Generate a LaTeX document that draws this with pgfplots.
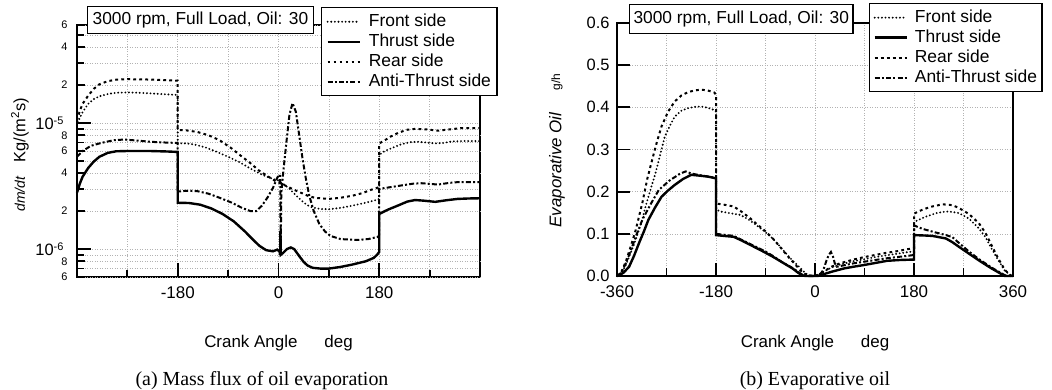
\documentclass[border=0pt]{standalone}
\usepackage{fontspec}
\setmainfont{Liberation Sans}
\newfontfamily\seriffont{Liberation Serif}
\usepackage{pgfplots}
\pgfplotsset{compat=1.18}
\newcommand\fs[1]{\fontsize{#1}{#1}\selectfont}

\pgfplotsset{
  myax/.style={
    scale only axis,
    clip=false,
    axis line style={line width=2bp},
    tick style={line width=1.8bp, black},
    tick align=inside,
    tick pos=left,
    major tick length=14bp,
    minor tick length=8bp,
    grid=both,
    major grid style={line width=0.6bp, gray!60, dash pattern=on 1bp off 1.5bp},
    minor grid style={line width=0.6bp, gray!60, dash pattern=on 1bp off 1.5bp},
    xticklabel style={font=\fs{17}, yshift=-6bp},
    xmin=-360, xmax=360,
    minor xtick={-270,-90,90,270},
    legend cell align=left,
    legend image code/.code={\draw[#1] (0bp,0bp) -- (32bp,0bp);},
  },
  front/.style={black, line width=2.1bp, line cap=round, dash pattern=on 0bp off 3.6bp},
  rear/.style={black, line width=2bp, dash pattern=on 2.8bp off 3.2bp},
  thrust/.style={black, line width=2.4bp, solid},
  anti/.style={black, line width=2bp, dash pattern=on 5bp off 2.2bp on 2bp off 2.2bp},
}

\begin{document}
\begin{tikzpicture}
\useasboundingbox (0bp,0bp) rectangle (1052bp,390bp);

% ---------------- (a) ----------------
\begin{axis}[myax,
  at={(77bp,113bp)}, anchor=south west, width=403bp, height=252bp,
  ymode=log, ymin=6e-7, ymax=6e-5,
  xtick={-180,0,180}, xticklabels={-180,0,180},
  ytick={1e-6,1e-5},
  yticklabels={10\raisebox{5bp}{\fs{11}-6},10\raisebox{5bp}{\fs{11}-5}},
  yticklabel style={font=\fs{16.5}, xshift=-10bp},
  extra y ticks={6e-7,8e-7,2e-6,4e-6,6e-6,8e-6,2e-5,4e-5,6e-5},
  extra y tick labels={6,8,2,4,6,8,2,4,6},
  extra y tick style={grid=major, major tick length=8bp,
     yticklabel style={font=\fs{11}, xshift=4bp}},
  minor ytick={7e-7,9e-7,3e-6,5e-6,7e-6,9e-6,3e-5,5e-5},
  minor tick length=7bp,
  xlabel={Crank Angle\hspace{27bp}deg},
  xlabel style={font=\fs{17}, at={(axis description cs:0.5,-0.262)}, anchor=center},
  legend style={at={(axis description cs:0.605,1.071)}, anchor=north west,
     draw=black, line width=1.3bp, fill=white, font=\fs{17.5},
     inner xsep=5bp, inner ysep=4bp, row sep=0bp,
     nodes={inner sep=1bp, text height=13.5bp, text depth=4.5bp},
     /tikz/every odd column/.append style={column sep=7bp}},
]
\addplot[front] coordinates {(-360,9.5e-6) (-355,1.1e-5) (-350,1.22e-5) (-340,1.42e-5) (-330,1.55e-5) (-320,1.63e-5) (-305,1.7e-5) (-290,1.74e-5) (-270,1.75e-5) (-250,1.74e-5) (-230,1.72e-5) (-200,1.69e-5) (-180,1.67e-5) (-180,6.9e-6) (-165,6.9e-6) (-150,6.75e-6) (-130,6.4e-6) (-110,5.9e-6) (-90,5.4e-6) (-70,4.9e-6) (-50,4.35e-6) (-30,3.9e-6) (-10,3.6e-6) (0,3.5e-6) (10,3.25e-6) (20,3.0e-6) (30,2.7e-6) (40,2.45e-6) (50,2.25e-6) (60,2.14e-6) (75,2.08e-6) (90,2.07e-6) (110,2.12e-6) (130,2.2e-6) (150,2.3e-6) (170,2.42e-6) (180,2.5e-6) (180,5.6e-6) (190,6.0e-6) (205,6.4e-6) (220,6.8e-6) (235,7.05e-6) (250,7.1e-6) (265,7.0e-6) (280,6.9e-6) (295,6.95e-6) (310,7.15e-6) (330,7.2e-6) (360,7.2e-6)};
\addlegendentry{Front side}
\addplot[thrust] coordinates {(-360,2.8e-6) (-355,3.3e-6) (-350,3.75e-6) (-340,4.4e-6) (-330,4.95e-6) (-320,5.4e-6) (-305,5.8e-6) (-290,5.97e-6) (-270,6.0e-6) (-230,6.0e-6) (-200,5.95e-6) (-180,5.9e-6) (-180,2.33e-6) (-160,2.32e-6) (-140,2.25e-6) (-120,2.1e-6) (-100,1.9e-6) (-80,1.66e-6) (-60,1.38e-6) (-45,1.18e-6) (-34,1.06e-6) (-22,0.98e-6) (-10,0.96e-6) (-2,0.99e-6) (2,0.95e-6) (3,0.9e-6) (3.5,1.4e-6) (4,0.9e-6) (8,0.93e-6) (15,1.0e-6) (22,1.03e-6) (28,1.0e-6) (37,0.88e-6) (45,0.79e-6) (52,0.74e-6) (61,0.71e-6) (75,0.70e-6) (90,0.70e-6) (110,0.72e-6) (130,0.75e-6) (156,0.8e-6) (170,0.85e-6) (176,0.9e-6) (180,0.95e-6) (180,1.9e-6) (195,2.05e-6) (214,2.22e-6) (230,2.38e-6) (244,2.45e-6) (260,2.42e-6) (280,2.37e-6) (300,2.44e-6) (320,2.5e-6) (340,2.52e-6) (360,2.53e-6)};
\addlegendentry{Thrust side}
\addplot[rear] coordinates {(-360,1.05e-5) (-355,1.25e-5) (-350,1.42e-5) (-340,1.65e-5) (-330,1.87e-5) (-320,2.03e-5) (-305,2.15e-5) (-290,2.21e-5) (-270,2.23e-5) (-240,2.22e-5) (-210,2.2e-5) (-180,2.17e-5) (-180,8.8e-6) (-165,8.75e-6) (-145,8.5e-6) (-125,8.0e-6) (-105,7.3e-6) (-85,6.35e-6) (-65,5.4e-6) (-50,4.8e-6) (-35,4.2e-6) (-20,3.8e-6) (-5,3.45e-6) (5,3.3e-6) (15,3.15e-6) (28,2.95e-6) (40,2.8e-6) (52,2.65e-6) (65,2.55e-6) (90,2.5e-6) (110,2.55e-6) (132,2.65e-6) (150,2.78e-6) (165,2.95e-6) (180,3.1e-6) (180,6.9e-6) (190,7.3e-6) (200,7.8e-6) (215,8.4e-6) (230,8.85e-6) (245,9.0e-6) (265,8.9e-6) (285,8.7e-6) (305,8.9e-6) (325,9.1e-6) (360,9.1e-6)};
\addlegendentry{Rear side}
\addplot[anti] coordinates {(-360,5.4e-6) (-350,6.0e-6) (-335,6.6e-6) (-317,6.95e-6) (-295,7.3e-6) (-276,7.4e-6) (-250,7.25e-6) (-229,7.1e-6) (-200,7.0e-6) (-180,6.95e-6) (-180,2.86e-6) (-165,2.9e-6) (-145,2.88e-6) (-125,2.75e-6) (-105,2.55e-6) (-85,2.35e-6) (-65,2.12e-6) (-50,2.0e-6) (-40,2.0e-6) (-30,2.2e-6) (-20,2.55e-6) (-10,3.05e-6) (-2,3.7e-6) (3,3.9e-6) (4,0.95e-6) (5,2.8e-6) (9,4.3e-6) (13.6,6.7e-6) (19.5,1.16e-5) (25,1.44e-5) (31,1.23e-5) (37,8.0e-6) (43,5.2e-6) (49,3.6e-6) (55,2.65e-6) (63,2.0e-6) (73,1.58e-6) (83,1.38e-6) (93,1.27e-6) (111,1.2e-6) (140,1.18e-6) (160,1.2e-6) (178,1.25e-6) (180,1.3e-6) (180,3.0e-6) (200,3.1e-6) (220,3.2e-6) (240,3.3e-6) (256,3.33e-6) (285,3.25e-6) (305,3.35e-6) (321,3.4e-6) (360,3.4e-6)};
\addlegendentry{Anti-Thrust side}
\node[draw=black, line width=1.3bp, fill=white, anchor=north west, font=\fs{17.4},
      inner xsep=5bp, inner ysep=5bp, text height=12.5bp, text depth=4bp]
  at (axis description cs:0.025,1.075) {3000 rpm, Full Load, Oil: 30};
\end{axis}

% ---------------- (b) ----------------
\begin{axis}[myax,
  at={(617bp,114bp)}, anchor=south west, width=396bp, height=253bp,
  ymin=0, ymax=0.6,
  xtick={-360,-180,0,180,360}, xticklabels={-360,-180,0,180,360},
  ytick={0,0.1,0.2,0.3,0.4,0.5,0.6},
  yticklabels={0.0,0.1,0.2,0.3,0.4,0.5,0.6},
  yticklabel style={font=\fs{16.5}, xshift=-4bp},
  major tick length=13bp,
  xlabel={Crank Angle\hspace{27bp}deg},
  xlabel style={font=\fs{17}, at={(axis description cs:0.5,-0.265)}, anchor=center},
  legend style={at={(axis description cs:0.636,1.079)}, anchor=north west,
     draw=black, line width=1.3bp, fill=white, font=\fs{17.5},
     inner xsep=4bp, inner ysep=4bp, row sep=0bp,
     nodes={inner sep=1bp, text height=13.5bp, text depth=4.5bp},
     /tikz/every odd column/.append style={column sep=6bp}},
]
\addplot[front] coordinates {(-360,0) (-352,0.007) (-344,0.026) (-335,0.055) (-326,0.086) (-316,0.125) (-308,0.165) (-299,0.205) (-290,0.244) (-281,0.29) (-273,0.331) (-264,0.356) (-255,0.378) (-243,0.392) (-231,0.398) (-219,0.401) (-207,0.402) (-195,0.399) (-184,0.394) (-180,0.39) (-180,0.158) (-172,0.153) (-155,0.149) (-136,0.145) (-121,0.134) (-107,0.121) (-92,0.106) (-77,0.089) (-65,0.072) (-53,0.054) (-41,0.037) (-29,0.022) (-17,0.006) (-8,0.001) (0,0) (5,0.002) (15,0.01) (30,0.02) (45,0.027) (70,0.035) (90,0.04) (110,0.045) (130,0.049) (150,0.053) (170,0.057) (180,0.058) (180,0.128) (200,0.14) (220,0.149) (238,0.153) (250,0.152) (262,0.149) (280,0.136) (298,0.113) (310,0.092) (321,0.065) (333,0.038) (345,0.013) (355,0.002) (360,0)};
\addlegendentry{Front side}
\addplot[thrust] coordinates {(-360,0) (-356,0.002) (-348,0.008) (-338,0.022) (-329,0.048) (-320,0.078) (-311,0.106) (-303,0.133) (-291,0.162) (-279,0.188) (-267,0.203) (-255,0.216) (-240,0.23) (-225,0.24) (-210,0.238) (-196,0.236) (-181,0.232) (-180,0.23) (-180,0.097) (-165,0.095) (-148,0.093) (-133,0.084) (-118,0.074) (-97,0.06) (-77,0.046) (-59,0.032) (-41,0.018) (-30,0.007) (-23,0.002) (-18,0) (5,0) (15,0.004) (30,0.01) (53,0.018) (70,0.022) (89,0.026) (110,0.031) (131,0.036) (155,0.038) (180,0.039) (180,0.097) (200,0.096) (214,0.095) (238,0.089) (250,0.08) (262,0.069) (280,0.053) (298,0.037) (310,0.027) (321,0.018) (333,0.009) (345,0.0) (360,0)};
\addlegendentry{Thrust side}
\addplot[rear] coordinates {(-360,0) (-352,0.01) (-344,0.034) (-335,0.07) (-326,0.109) (-314,0.173) (-305,0.23) (-296,0.276) (-287,0.32) (-279,0.355) (-267,0.39) (-255,0.414) (-243,0.428) (-231,0.436) (-219,0.44) (-207,0.442) (-195,0.44) (-183,0.435) (-180,0.43) (-180,0.172) (-165,0.169) (-148,0.165) (-133,0.152) (-118,0.137) (-104,0.121) (-89,0.105) (-74,0.085) (-59,0.062) (-47,0.043) (-35,0.026) (-27,0.014) (-20,0.006) (-10,0.001) (0,0) (5,0.002) (15,0.01) (30,0.022) (45,0.03) (70,0.039) (90,0.045) (110,0.05) (130,0.055) (150,0.059) (170,0.064) (180,0.066) (180,0.148) (195,0.157) (210,0.164) (232,0.17) (250,0.168) (262,0.161) (280,0.147) (298,0.125) (310,0.102) (321,0.073) (333,0.042) (345,0.015) (355,0.002) (360,0)};
\addlegendentry{Rear side}
\addplot[anti] coordinates {(-360,0) (-352,0.008) (-344,0.03) (-335,0.06) (-326,0.093) (-314,0.133) (-299,0.17) (-284,0.204) (-265,0.226) (-245,0.243) (-235,0.248) (-225,0.243) (-205,0.238) (-190,0.235) (-180,0.232) (-180,0.1) (-160,0.097) (-148,0.095) (-118,0.076) (-90,0.058) (-77,0.048) (-60,0.033) (-41,0.019) (-23,0.003) (-15,0) (0,0) (10,0.005) (15,0.014) (21,0.037) (25,0.05) (29,0.057) (33,0.045) (36,0.03) (40,0.022) (55,0.026) (70,0.03) (90,0.034) (110,0.038) (130,0.042) (150,0.045) (170,0.048) (180,0.05) (180,0.12) (195,0.112) (214,0.105) (238,0.097) (250,0.092) (262,0.078) (280,0.058) (298,0.04) (321,0.02) (345,0.002) (355,0) (360,0)};
\addlegendentry{Anti-Thrust side}
\node[draw=black, line width=1.3bp, fill=white, anchor=north west, font=\fs{17.4},
      inner xsep=4bp, inner ysep=6bp, text height=12.5bp, text depth=4bp]
  at (axis description cs:0.030,1.075) {3000 rpm, Full Load, Oil: 30};
\end{axis}

% y labels
\node[rotate=90, anchor=center, font={\fs{14}\itshape}] at (20bp,196bp) {dm/dt};
\node[rotate=90, anchor=center, font=\fs{16.5}] at (20bp,260bp) {Kg/(m\textsuperscript{2}s)};
\node[rotate=90, anchor=center, font={\fs{17}\itshape}] at (557bp,220bp) {Evaporative Oil};
\node[rotate=90, anchor=center, font=\fs{12}] at (557bp,308bp) {g/h};

\node[font={\seriffont\fs{20}}, anchor=base] at (262bp,5bp) {(a) Mass flux of oil evaporation};
\node[font={\seriffont\fs{20}}, anchor=base] at (815bp,5bp) {(b) Evaporative oil};
\end{tikzpicture}
\end{document}
